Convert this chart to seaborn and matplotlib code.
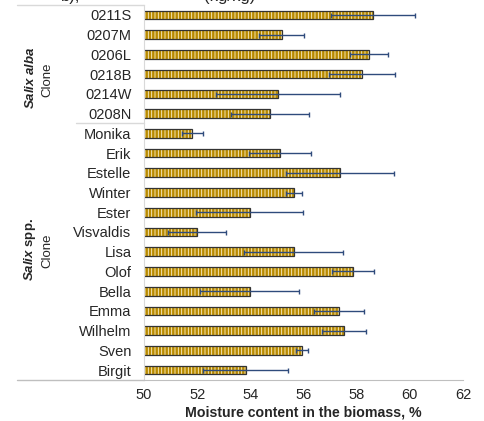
import numpy as np
import pandas as pd
import seaborn as sns
import matplotlib.pyplot as plt
from matplotlib.lines import Line2D

# clone names, top to bottom
alba_clones = ['0211S', '0207M', '0206L', '0218B', '0214W', '0208N']
spp_clones = ['Monika', 'Erik', 'Estelle', 'Winter', 'Ester', 'Visvaldis', 'Lisa',
              'Olof', 'Bella', 'Emma', 'Wilhelm', 'Sven', 'Birgit']

# moisture content, % (mean) and error
alba_moisture = [58.62, 55.18, 58.47, 58.21, 55.05, 54.74]
alba_err = [1.58, 0.84, 0.71, 1.24, 2.33, 1.47]
spp_moisture = [51.82, 55.12, 57.38, 55.63, 53.97, 52.00, 55.63,
                57.87, 53.97, 57.34, 57.52, 55.95, 53.82]
spp_err = [0.40, 1.18, 2.03, 0.30, 2.00, 1.08, 1.87,
           0.79, 1.87, 0.95, 0.82, 0.23, 1.60]

xticks = [50, 52, 54, 56, 58, 60, 62]

df = pd.DataFrame({
    'clone': alba_clones + spp_clones,
    'moisture': alba_moisture + spp_moisture,
    'err': alba_err + spp_err,
})

sns.set_style('white')
plt.rcParams['font.family'] = ['Liberation Sans', 'DejaVu Sans']
plt.rcParams['mathtext.fontset'] = 'custom'
plt.rcParams['mathtext.rm'] = 'Liberation Sans'
plt.rcParams['mathtext.bf'] = 'Liberation Sans:bold'
plt.rcParams['mathtext.it'] = 'Liberation Sans:italic'
plt.rcParams['mathtext.bfit'] = 'Liberation Sans:italic:bold'
plt.rcParams['hatch.linewidth'] = 0.6

fig = plt.figure(figsize=(4.85, 4.21), dpi=100)
ax = fig.add_axes([0.2969, 0.0974, 0.6577, 0.8906])

gold = '#B88A00'
# striped fill
sns.barplot(data=df, x='moisture', y='clone', orient='h', color=gold, width=0.44,
            saturation=1, hatch='|||||', edgecolor='#FFF2CC', linewidth=0, ax=ax)
# dark outline on top
sns.barplot(data=df, x='moisture', y='clone', orient='h', width=0.44, fill=False,
            color='#333333', linewidth=0.9, ax=ax)

ypos = np.arange(len(df))
ax.errorbar(df['moisture'], ypos, xerr=df['err'], fmt='none', ecolor='#2F4B7C',
            elinewidth=1, capsize=1.8, capthick=1, zorder=5)

ax.set_xlim(50, 62)
ax.set_ylim(len(df) - 0.5, -0.5)
ax.set_xticks(xticks)
ax.set_xticklabels([str(t) for t in xticks], fontsize=10.5)
ax.tick_params(axis='y', length=0, pad=9, labelsize=10.5)
ax.tick_params(axis='x', direction='in', length=3, color='#BFBFBF', pad=6)
ax.set_ylabel('')
ax.set_xlabel('Moisture content in the biomass, %', fontsize=10.2,
              fontweight='bold', labelpad=2)

for s in ['top', 'right']:
    ax.spines[s].set_visible(False)
ax.spines['left'].set_color('#D9D9D9')
ax.spines['bottom'].set_color('#BFBFBF')

# table-like lines in the label column
W, H = 485, 421
def hline(x0, x1, y, c='#D9D9D9'):
    fig.add_artist(Line2D([x0 / W, x1 / W], [1 - y / H, 1 - y / H],
                          color=c, lw=1, transform=fig.transFigure))

hline(17, 144, 5)
hline(76, 144, 123)
hline(17, 144, 380, c='#BFBFBF')

# group labels
fig.text(31 / W, 1 - 78 / H, r'$\bfit{Salix}\ \bfit{alba}$', rotation=90,
         ha='center', va='center', fontsize=9.5)
fig.text(47 / W, 1 - 80 / H, 'Clone', rotation=90, ha='center', va='center',
         fontsize=9.5)
fig.text(30 / W, 1 - 250 / H, r'$\bfit{Salix}\ \mathbf{spp.}$', rotation=90,
         ha='center', va='center', fontsize=9.5)
fig.text(47 / W, 1 - 251 / H, 'Clone', rotation=90, ha='center', va='center',
         fontsize=9.5)

# heading of the panel, mostly above the top edge as in the source
fig.text(80 / W, 1 - 1.5 / H, 'b),', ha='right', va='baseline', fontsize=12)
fig.text(230 / W, 1 - 1.5 / H, '(kg/kg)', ha='center', va='baseline', fontsize=12)

fig.savefig('out.png', dpi=100)
